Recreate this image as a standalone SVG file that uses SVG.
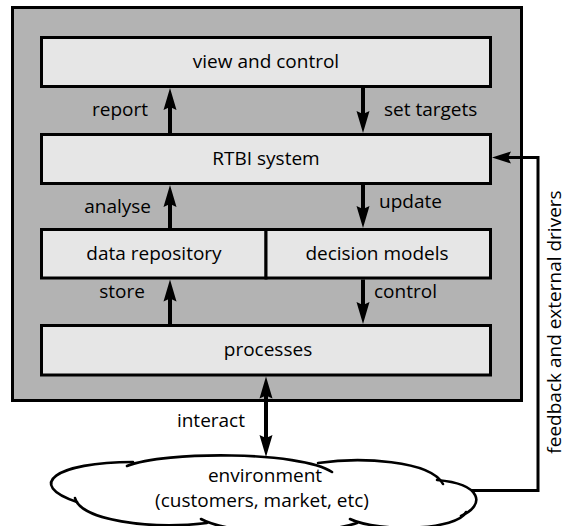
<svg xmlns="http://www.w3.org/2000/svg" width="566" height="526" viewBox="0 0 566 526">
<style>
.frame{fill:#b3b3b3;stroke:#000;stroke-width:3}
.box{fill:#e6e6e6;stroke:#000;stroke-width:3}
.lbl{font-family:"Open Sans","Noto Sans","DejaVu Sans",sans-serif;font-size:19px;fill:#000}
.mid{text-anchor:middle}
.end{text-anchor:end}
.shaft{stroke:#000;stroke-width:4;fill:none}
.head{fill:#000;stroke:none}
.cl{fill:none;stroke:#000;stroke-width:2.6;stroke-linecap:round}
</style>
<defs>
<path id="up" d="M0 0 L6.5 22 L0 19 L-6.5 22 Z"/>
<path id="down" d="M0 0 L6.5 -22 L0 -19 L-6.5 -22 Z"/>
</defs>
<rect id="frame" class="frame" x="12.5" y="7.5" width="509" height="393"/>
<g id="view"><rect class="box" x="41.5" y="37.5" width="449" height="49"/><text class="lbl mid" x="266" y="68">view and control</text></g>
<g id="rtbi"><rect class="box" x="41.5" y="134.5" width="449" height="49"/><text class="lbl mid" x="266" y="165">RTBI system</text></g>
<g id="data"><rect class="box" x="41.5" y="229.5" width="224.5" height="48.5"/><text class="lbl mid" x="154" y="260">data repository</text></g>
<g id="decision"><rect class="box" x="266" y="229.5" width="224.5" height="48.5"/><text class="lbl mid" x="377" y="260">decision models</text></g>
<g id="processes"><rect class="box" x="41.5" y="325.5" width="449" height="49.5"/><text class="lbl mid" x="268" y="356">processes</text></g>
<g id="environment">
<path d="M130 463 C165 451 300 451 330 470 C360 457 430 460 441 482 C482 484 486 505 462 515 C455 530 380 532 352 521 C320 535 230 535 203 522 C150 530 80 520 77 502 C25 485 55 462 130 463 Z" fill="#fff" stroke="none"/>
<path class="cl" d="M77 502 C25 485 55 462 133 462"/>
<path class="cl" d="M127 466 C165 451 300 451 332 472"/>
<path class="cl" d="M318 463 C360 457 430 460 443 484"/>
<path class="cl" d="M437 480 C482 484 486 505 461 516"/>
<path class="cl" d="M466 512 C458 530 380 533 350 519"/>
<path class="cl" d="M357 523 C320 535 230 535 201 519"/>
<path class="cl" d="M207 523 C150 530 80 520 75 498"/>
<text class="lbl mid" x="265" y="482">environment</text>
<text class="lbl mid" x="262" y="507">(customers, market, etc)</text>
</g>
<g id="connectors">
<line class="shaft" x1="170" y1="105" x2="170" y2="133"/><use href="#up" x="170" y="88"/>
<line class="shaft" x1="363" y1="88" x2="363" y2="115"/><use href="#down" x="363" y="133"/>
<line class="shaft" x1="170" y1="202" x2="170" y2="228"/><use href="#up" x="170" y="185"/>
<line class="shaft" x1="363" y1="185" x2="363" y2="210"/><use href="#down" x="363" y="228"/>
<line class="shaft" x1="170" y1="297" x2="170" y2="324"/><use href="#up" x="170" y="279.5"/>
<line class="shaft" x1="363" y1="279.5" x2="363" y2="306"/><use href="#down" x="363" y="324"/>
<line class="shaft" x1="266" y1="394" x2="266" y2="440"/><use href="#up" x="266" y="376.5"/><use href="#down" x="266" y="457"/>
<path d="M471 490.5 H538 V157.5 H506" fill="none" stroke="#000" stroke-width="3"/>
<path d="M492 157.5 L511 151.5 L508 157.5 L511 163.5 Z" fill="#000"/>
<text class="lbl end" x="148" y="116">report</text>
<text class="lbl" x="384" y="116">set targets</text>
<text class="lbl end" x="151" y="213">analyse</text>
<text class="lbl" x="379" y="208">update</text>
<text class="lbl end" x="145" y="298">store</text>
<text class="lbl" x="374" y="298">control</text>
<text class="lbl end" x="245" y="427">interact</text>
<text class="lbl mid" transform="translate(561 322) rotate(-90)">feedback and external drivers</text>
</g>
</svg>
